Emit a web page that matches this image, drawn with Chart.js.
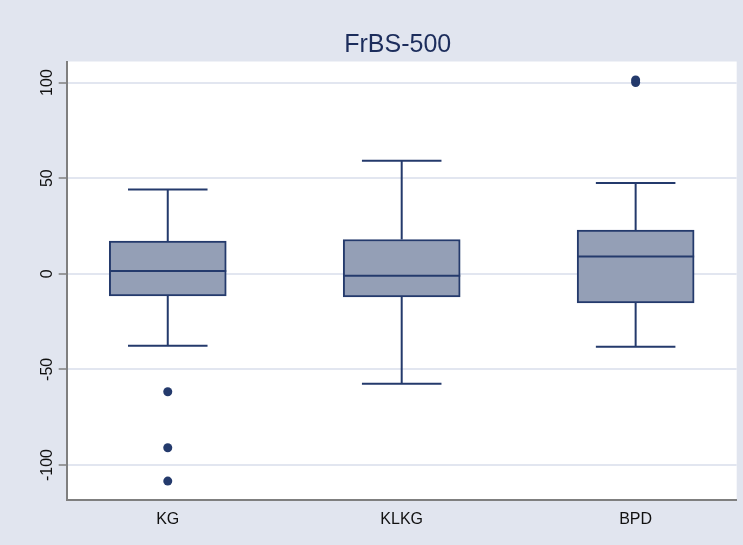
<!DOCTYPE html>
<html>
<head>
<meta charset="utf-8">
<script src="https://cdn.jsdelivr.net/npm/chart.js@4"></script>
<style>
  html, body { margin: 0; padding: 0; background: #e1e5ef; }
  #wrap { width: 743px; height: 545px; }
</style>
</head>
<body>
<div id="wrap"><canvas id="c" width="743" height="545"></canvas></div>
<script>
// Box-plot summary per group
const categories = ['KG', 'KLKG', 'BPD'];
const positions = [1, 2, 3];
const lowerWhisker = [-37.7, -57.5, -38.2];
const q1 = [-11.6, -12.1, -15.2];
const median = [1.5, -1.1, 9.0];
const q3 = [17.1, 17.9, 22.9];
const upperWhisker = [44.1, 59.1, 47.4];
// Observations outside the whiskers
const outlierGroup = [1, 1, 1, 3, 3];
const outlierValue = [-61.7, -91.0, -108.4, 100.0, 101.3];
const yTicks = [-100, -50, 0, 50, 100];

const NAVY = '#243a6c';
const BOX_FILL = '#949fb6';
const AXIS = '#7f7f7f';
const GRID = '#e2e6f0';
const BG = '#e1e5ef';

const boxData = positions.map((p, i) => ({ x: p, y: [q1[i], q3[i]] }));
const outlierData = outlierValue.map((v, i) => ({ x: outlierGroup[i], y: v }));

const boxPlotExtras = {
  id: 'boxPlotExtras',
  beforeDraw(chart) {
    const { ctx, chartArea: a } = chart;
    ctx.save();
    ctx.fillStyle = BG;
    ctx.fillRect(0, 0, chart.width, chart.height);
    ctx.fillStyle = '#ffffff';
    ctx.fillRect(a.left, a.top, a.right - a.left, a.bottom - a.top);
    ctx.restore();
  },
  beforeDatasetsDraw(chart) {
    // whiskers and caps, behind the boxes
    const { ctx, scales: { x, y } } = chart;
    ctx.save();
    ctx.strokeStyle = NAVY;
    ctx.lineWidth = 2;
    positions.forEach((p, i) => {
      const px = x.getPixelForValue(p);
      const capL = x.getPixelForValue(p - 0.17);
      const capR = x.getPixelForValue(p + 0.17);
      const yu = y.getPixelForValue(upperWhisker[i]);
      const yl = y.getPixelForValue(lowerWhisker[i]);
      ctx.beginPath();
      ctx.moveTo(px, y.getPixelForValue(q3[i]));
      ctx.lineTo(px, yu);
      ctx.moveTo(capL, yu);
      ctx.lineTo(capR, yu);
      ctx.moveTo(px, y.getPixelForValue(q1[i]));
      ctx.lineTo(px, yl);
      ctx.moveTo(capL, yl);
      ctx.lineTo(capR, yl);
      ctx.stroke();
    });
    ctx.restore();
  },
  afterDatasetsDraw(chart) {
    const { ctx, scales: { y } } = chart;
    const meta = chart.getDatasetMeta(0);
    ctx.save();
    ctx.strokeStyle = NAVY;
    ctx.lineWidth = 2;
    meta.data.forEach((bar, i) => {
      const ym = y.getPixelForValue(median[i]);
      ctx.beginPath();
      ctx.moveTo(bar.x - bar.width / 2, ym);
      ctx.lineTo(bar.x + bar.width / 2, ym);
      ctx.stroke();
    });
    ctx.restore();
  },
  afterDraw(chart) {
    // rotated y tick labels
    const { ctx, scales: { y } } = chart;
    ctx.save();
    ctx.fillStyle = '#111111';
    ctx.font = '16px "Liberation Sans", Arial, sans-serif';
    ctx.textAlign = 'center';
    ctx.textBaseline = 'alphabetic';
    yTicks.forEach(v => {
      ctx.save();
      ctx.translate(y.left - 7, y.getPixelForValue(v));
      ctx.rotate(-Math.PI / 2);
      ctx.fillText(String(v), 0, 0);
      ctx.restore();
    });
    ctx.restore();
  }
};

new Chart(document.getElementById('c'), {
  data: {
    datasets: [
      {
        type: 'bar',
        data: boxData,
        backgroundColor: BOX_FILL,
        borderColor: NAVY,
        borderWidth: 2,
        borderSkipped: false,
        barThickness: 117,
        order: 2
      },
      {
        type: 'scatter',
        data: outlierData,
        backgroundColor: NAVY,
        borderColor: NAVY,
        pointRadius: 4.5,
        borderWidth: 0,
        order: 1
      }
    ]
  },
  plugins: [boxPlotExtras],
  options: {
    responsive: false,
    animation: false,
    layout: { padding: { left: 58.7, right: 6.3, top: 0, bottom: 5 } },
    plugins: {
      legend: { display: false },
      tooltip: { enabled: false },
      title: {
        display: true,
        text: 'FrBS-500',
        color: '#1c2d5c',
        font: { family: '"Liberation Sans", Arial, sans-serif', size: 25, weight: 'normal' },
        padding: { top: 30.5, bottom: 1 }
      }
    },
    scales: {
      x: {
        type: 'linear',
        offset: false,
        min: 0.568,
        max: 3.432,
        afterBuildTicks(scale) { scale.ticks = positions.map(v => ({ value: v })); },
        ticks: {
          color: '#111111',
          font: { family: '"Liberation Sans", Arial, sans-serif', size: 16 },
          padding: 10.4,
          autoSkip: false,
          maxRotation: 0,
          callback(value) {
            const i = positions.indexOf(value);
            return i >= 0 ? categories[i] : '';
          }
        },
        grid: { display: false, drawTicks: false },
        border: { display: true, color: AXIS, width: 2 }
      },
      y: {
        type: 'linear',
        min: -118.3,
        max: 111,
        afterBuildTicks(scale) { scale.ticks = yTicks.map(v => ({ value: v })); },
        ticks: { display: false },
        grid: {
          color: GRID,
          lineWidth: 2,
          drawTicks: true,
          tickLength: 8,
          tickColor: AXIS,
          tickWidth: 1.5
        },
        border: { display: true, color: AXIS, width: 2 }
      }
    }
  }
});
</script>
</body>
</html>
